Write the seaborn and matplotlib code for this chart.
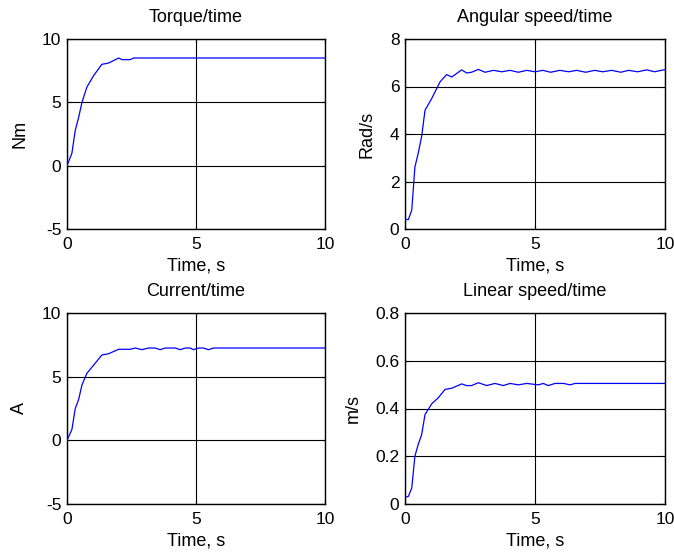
import matplotlib
matplotlib.use("Agg")
import matplotlib.pyplot as plt
import seaborn as sns
import pandas as pd

# ---- data ----
torque_t = [0, 0.19, 0.32, 0.45, 0.58, 0.77, 1.03, 1.35, 1.61, 2.0, 2.13, 2.45, 2.58, 10]
torque_v = [0, 0.98, 2.8, 3.8, 5.0, 6.2, 7.1, 8.0, 8.1, 8.5, 8.37, 8.37, 8.5, 8.5]

ang_t = [0, 0.13, 0.26, 0.38, 0.51, 0.64, 0.77, 1.03, 1.35, 1.6, 1.8, 2.18, 2.37, 2.56,
         2.82, 3.08, 3.4, 3.72, 4.04, 4.36, 4.68, 5.0, 5.3, 5.6, 5.95, 6.3, 6.6, 6.95,
         7.3, 7.6, 7.95, 8.3, 8.6, 8.95, 9.3, 9.6, 9.95, 10]
ang_v = [0.4, 0.4, 0.8, 2.6, 3.2, 3.9, 5.0, 5.5, 6.2, 6.5, 6.4, 6.7, 6.57, 6.6,
         6.72, 6.6, 6.68, 6.62, 6.68, 6.6, 6.68, 6.62, 6.68, 6.6, 6.68, 6.62, 6.68, 6.6,
         6.68, 6.62, 6.68, 6.6, 6.68, 6.62, 6.7, 6.62, 6.7, 6.7]

cur_t = [0, 0.19, 0.32, 0.45, 0.58, 0.77, 1.03, 1.35, 1.61, 2.0, 2.45, 2.65, 2.9, 3.16,
         3.42, 3.61, 3.81, 4.19, 4.39, 4.58, 4.77, 4.9, 5.1, 5.29, 5.48, 5.68, 10]
cur_v = [0, 0.85, 2.5, 3.2, 4.35, 5.26, 5.9, 6.7, 6.8, 7.15, 7.15, 7.25, 7.12, 7.25,
         7.25, 7.12, 7.25, 7.25, 7.12, 7.25, 7.25, 7.12, 7.25, 7.25, 7.12, 7.25, 7.25]

lin_t = [0, 0.13, 0.26, 0.38, 0.51, 0.64, 0.77, 1.03, 1.28, 1.54, 1.8, 2.18, 2.37, 2.56,
         2.82, 3.14, 3.46, 3.78, 4.04, 4.36, 4.68, 5.13, 5.32, 5.51, 5.77, 6.1, 6.35, 6.54, 10]
lin_v = [0.028, 0.032, 0.067, 0.2, 0.25, 0.29, 0.375, 0.42, 0.445, 0.48, 0.485, 0.503, 0.496, 0.496,
         0.508, 0.496, 0.505, 0.496, 0.505, 0.499, 0.505, 0.499, 0.505, 0.496, 0.505, 0.505, 0.499, 0.505, 0.505]

titles = ["Torque/time", "Angular speed/time", "Current/time", "Linear speed/time"]
ylabels = ["Nm", "Rad/s", "A", "m/s"]
xlabel = "Time, s"
xticks = [0, 5, 10]
yticks_list = [[-5, 0, 5, 10], [0, 2, 4, 6, 8], [-5, 0, 5, 10], [0, 0.2, 0.4, 0.6, 0.8]]
ytick_labels = [["-5", "0", "5", "10"], ["0", "2", "4", "6", "8"], ["-5", "0", "5", "10"],
                ["0", "0.2", "0.4", "0.6", "0.8"]]

series = [(torque_t, torque_v), (ang_t, ang_v), (cur_t, cur_v), (lin_t, lin_v)]

sns.set_theme(style="white")
plt.rcParams['font.family'] = ['Liberation Sans', 'DejaVu Sans']
FS = 12.5

fig = plt.figure(figsize=(6.74, 5.52), dpi=100)
rects = [
    [67/674, 1-229/552, 258/674, 190/552],
    [405/674, 1-229/552, 260/674, 190/552],
    [67/674, 1-504/552, 258/674, 191/552],
    [405/674, 1-504/552, 260/674, 191/552],
]

for i, (t, v) in enumerate(series):
    ax = fig.add_axes(rects[i])
    df = pd.DataFrame({"t": t, "v": v})
    sns.lineplot(data=df, x="t", y="v", ax=ax, color=(0, 0, 1), linewidth=0.9,
                 estimator=None, sort=False, zorder=3)
    yt = yticks_list[i]
    ax.set_xlim(0, 10)
    ax.set_ylim(yt[0], yt[-1])
    ax.set_xticks(xticks)
    ax.set_xticklabels([str(x) for x in xticks])
    ax.set_yticks(yt)
    ax.set_yticklabels(ytick_labels[i])
    ax.grid(True, color="black", linewidth=0.8, linestyle="-")
    for s in ax.spines.values():
        s.set_color("black")
        s.set_linewidth(1.0)
        s.set_visible(True)
    ax.tick_params(axis="both", which="both", direction="in", length=3, width=0.8,
                   colors="black", labelsize=FS, pad=4, top=True, right=True,
                   bottom=True, left=True)
    ax.tick_params(axis="x", pad=5.5)
    ax.set_title(titles[i], fontsize=13, pad=12, color="black")
    ax.set_xlabel(xlabel, fontsize=13, labelpad=4.5, color="black")
    ax.set_ylabel(ylabels[i], fontsize=13, labelpad=10, color="black")

fig.savefig("out.png", dpi=100)
